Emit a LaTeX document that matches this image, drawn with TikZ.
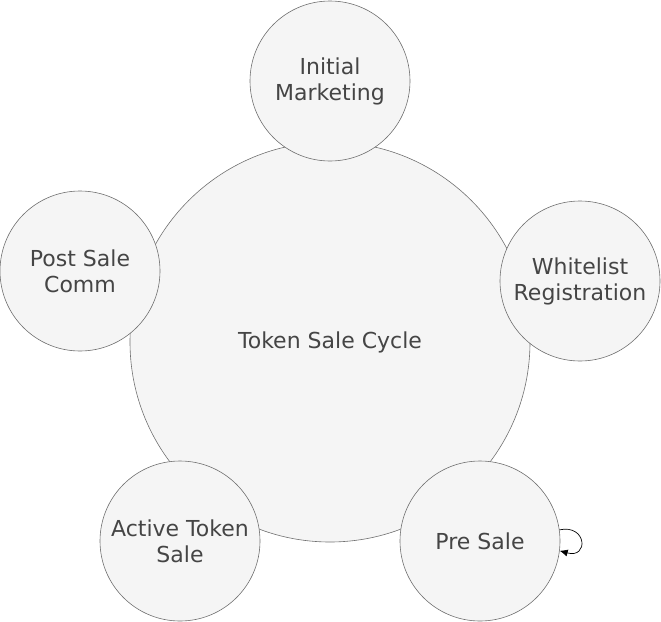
\documentclass[tikz,border=0pt]{standalone}
\usepackage{fontspec}
\setmainfont{DejaVu Sans}
\usetikzlibrary{arrows.meta}
\definecolor{discfill}{HTML}{F5F5F5}
\definecolor{discline}{HTML}{707070}
\definecolor{disctext}{HTML}{454545}

\begin{document}
\begin{tikzpicture}[x=1pt, y=-1pt, font=\fontsize{22}{26}\selectfont,
    hub/.style={circle, draw=discline, fill=discfill, text=disctext, line width=0.6pt,
        minimum size=400pt, inner sep=0pt, align=center},
    stage/.style={hub, minimum size=160pt}]
    % Page frame
    \useasboundingbox (0,0) rectangle (661,621);

    % Central cycle
    \node[hub] (cycle) at (330,342) {Token Sale Cycle};

    % Stages round the cycle
    \node[stage] (marketing) at (330,81) {Initial\\Marketing};
    \node[stage] (whitelist) at (580,281) {Whitelist\\Registration};
    \node[stage] (presale) at (480,541) {Pre Sale};
    \node[stage] (active) at (180,541) {Active Token\\Sale};
    \node[stage] (postsale) at (80,271) {Post Sale\\Comm};

    % Loop back onto the pre sale
    \draw[-{Latex[length=8pt,width=7pt]}, line width=0.7pt]
        (presale.8) .. controls (587,524) and (589,559) .. (presale.-7);
\end{tikzpicture}
\end{document}
